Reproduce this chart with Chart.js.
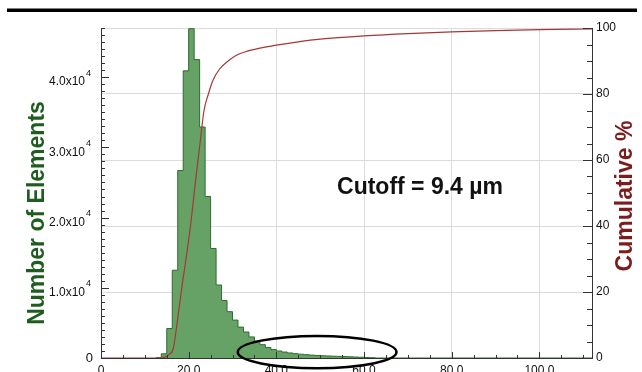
<!DOCTYPE html>
<html>
<head>
<meta charset="utf-8">
<script src="https://cdn.jsdelivr.net/npm/chart.js@4"></script>
<style>
  html, body { margin: 0; padding: 0; overflow: hidden; background: #fff; }
</style>
</head>
<body>
<canvas id="sizeChart" width="642" height="390"></canvas>
<script>
// histogram bins (size, 1.25 wide) and element counts per bin
const binStart = 12.5;
const binWidth = 1.25;
const binCounts = [50, 600, 4200, 12500, 26700, 40900, 46900, 42500, 32900, 23000,
  15600, 10400, 8200, 6600, 5400, 4400, 3700, 3000, 2400, 1900,
  1500, 1200, 1000, 850, 720, 620, 540, 470, 410, 360,
  320, 290, 260, 230, 200, 170, 140, 110, 80, 50];

// cumulative % curve
const cumSize = [0, 13, 14.5, 15.5, 16.5, 17.5, 18.5, 19.5, 20.5, 21.5, 22.5, 23.5, 24.5, 25.5,
  27, 29, 31, 33, 36, 40, 45, 50, 60, 70, 80, 90, 100, 112];
const cumPercent = [0, 0, 0.2, 1, 3, 12, 22, 31, 41, 53, 64, 75, 80, 84,
  87.5, 90, 91.8, 92.8, 93.8, 94.8, 95.8, 96.6, 97.6, 98.3, 98.8, 99.2, 99.5, 99.7];

const xTickLabels = ['0', '20.0', '40.0', '60.0', '80.0', '100.0'];
const countTickLabels = ['0', '1.0x10', '2.0x10', '3.0x10', '4.0x10'];
const countTickPowers = ['', '4', '4', '4', '4'];
const countTitle = 'Number of Elements';
const cumTitle = 'Cumulative %';
const cutoffLabel = 'Cutoff = 9.4 \u00b5m';
// ring around the tail: centre size, centre count, half width (size), half height (count)
const tailEllipse = [49.3, 850, 18.1, 2300];

const FONT = "'Liberation Sans', Arial, sans-serif";

const histPoints = binCounts.map((c, i) => ({ x: binStart + i * binWidth, y: c }));
histPoints.push({ x: binStart + binCounts.length * binWidth, y: 0 });
histPoints.push({ x: 112, y: 0 });

const cumPoints = cumSize.map((s, i) => ({ x: s, y: cumPercent[i] }));

// inside tick marks, left labels with exponents, titles, notes
const decor = {
  id: 'decor',
  beforeDraw(chart) {
    const ctx = chart.ctx;
    ctx.save();
    ctx.fillStyle = '#000';
    ctx.fillRect(7, 8.5, 630, 3.5);
    ctx.restore();
  },
  afterDraw(chart) {
    const { ctx, chartArea: area, scales } = chart;
    const x = scales.x, y = scales.y, y1 = scales.y1;
    ctx.save();

    ctx.strokeStyle = '#333';
    ctx.lineWidth = 1;
    ctx.beginPath();
    for (let v = 0; v <= x.max; v += 5) {
      const px = Math.round(x.getPixelForValue(v)) + 0.5;
      const len = v % 20 === 0 ? 6 : 3;
      ctx.moveTo(px, area.bottom);
      ctx.lineTo(px, area.bottom - len);
    }
    for (let v = 0; v <= y.max; v += 1000) {
      const py = Math.round(y.getPixelForValue(v)) + 0.5;
      const len = v % 10000 === 0 ? 8 : 4;
      ctx.moveTo(area.left, py);
      ctx.lineTo(area.left + len, py);
    }
    for (let v = 0; v <= y1.max; v += 5) {
      const py = Math.round(y1.getPixelForValue(v)) + 0.5;
      const len = v % 20 === 0 ? 9 : 5;
      ctx.moveTo(area.right, py);
      ctx.lineTo(area.right - len, py);
    }
    ctx.stroke();

    // left tick labels with superscript powers
    ctx.fillStyle = '#111';
    ctx.textBaseline = 'middle';
    countTickLabels.forEach((lab, i) => {
      const py = y.getPixelForValue(i * 10000);
      if (!countTickPowers[i]) {
        ctx.font = '13px ' + FONT;
        ctx.textAlign = 'right';
        ctx.fillText(lab, area.left - 8, py);
        return;
      }
      ctx.font = '12px ' + FONT;
      ctx.textAlign = 'right';
      ctx.fillText(lab, area.left - 16, py + 5);
      ctx.font = '9px ' + FONT;
      ctx.textAlign = 'left';
      ctx.fillText(countTickPowers[i], area.left - 15, py - 4);
    });

    // axis titles
    ctx.font = 'bold 23px ' + FONT;
    ctx.textAlign = 'center';
    ctx.save();
    ctx.translate(38, 213);
    ctx.rotate(-Math.PI / 2);
    ctx.fillStyle = '#1f5c1f';
    ctx.fillText(countTitle, 0, 0);
    ctx.restore();
    ctx.save();
    ctx.translate(626, 196);
    ctx.rotate(-Math.PI / 2);
    ctx.fillStyle = '#7d1c1c';
    ctx.fillText(cumTitle, 0, 0);
    ctx.restore();

    // cutoff note
    ctx.fillStyle = '#111';
    ctx.font = 'bold 23px ' + FONT;
    ctx.fillText(cutoffLabel, 420, 188);

    // ring around the tail
    const [ex, ey, erx, ery] = tailEllipse;
    const cx = x.getPixelForValue(ex);
    const cy = y.getPixelForValue(ey);
    const rx = x.getPixelForValue(ex + erx) - cx;
    const ry = cy - y.getPixelForValue(ey + ery);
    ctx.strokeStyle = '#000';
    ctx.lineWidth = 2.5;
    ctx.beginPath();
    ctx.ellipse(cx, cy, rx, ry, 0, 0, Math.PI * 2);
    ctx.stroke();

    ctx.restore();
  }
};

new Chart(document.getElementById('sizeChart'), {
  type: 'line',
  data: {
    datasets: [{
      label: cumTitle,
      data: cumPoints,
      yAxisID: 'y1',
      borderColor: 'rgb(165, 55, 55)',
      borderWidth: 1.2,
      pointRadius: 0,
      cubicInterpolationMode: 'monotone',
      fill: false,
      order: 0
    }, {
      label: countTitle,
      data: histPoints,
      yAxisID: 'y',
      stepped: true,
      borderColor: 'rgb(48, 108, 48)',
      backgroundColor: 'rgb(102, 162, 102)',
      borderWidth: 1,
      pointRadius: 0,
      fill: 'origin',
      order: 1
    }]
  },
  options: {
    responsive: false,
    animation: false,
    layout: { padding: { top: 28, left: 0, right: 0, bottom: 0 } },
    plugins: {
      legend: { display: false },
      tooltip: { enabled: false }
    },
    scales: {
      x: {
        type: 'linear',
        min: 0,
        max: 112,
        border: { color: '#333' },
        grid: { color: '#dcdcdc', drawTicks: false },
        ticks: {
          stepSize: 20,
          includeBounds: false,
          autoSkip: false,
          maxRotation: 0,
          padding: 5,
          color: '#111',
          font: { family: FONT, size: 12 },
          callback: (v, i) => xTickLabels[i]
        },
        afterFit: s => { s.height = 390 - 358; }
      },
      y: {
        position: 'left',
        min: 0,
        max: 47000,
        border: { color: '#333' },
        grid: { color: '#dcdcdc', drawTicks: false },
        ticks: { stepSize: 10000, display: false },
        afterFit: s => { s.width = 101; }
      },
      y1: {
        position: 'right',
        min: 0,
        max: 100,
        border: { color: '#333' },
        grid: { drawOnChartArea: false, drawTicks: false },
        ticks: {
          stepSize: 20,
          padding: 4,
          color: '#111',
          font: { family: FONT, size: 12 }
        },
        afterFit: s => { s.width = 50; }
      }
    }
  },
  plugins: [decor]
});
</script>
</body>
</html>
